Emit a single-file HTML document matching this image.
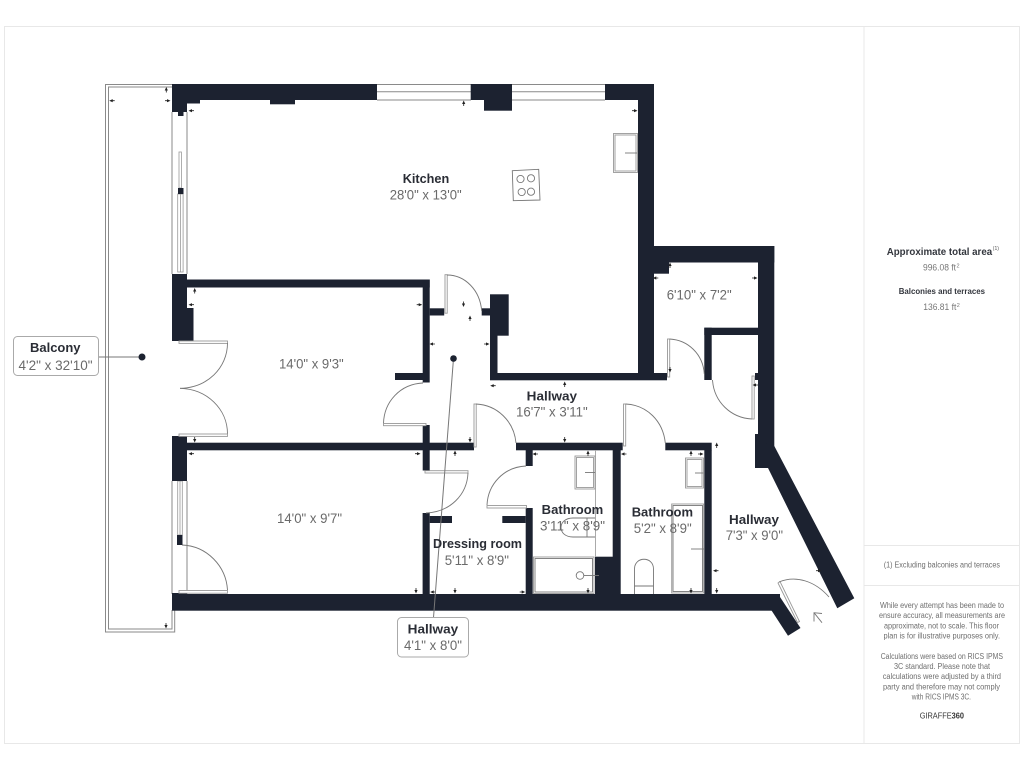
<!DOCTYPE html>
<html>
<head>
<meta charset="utf-8">
<style>
html,body{margin:0;padding:0;background:#fff;width:1024px;height:768px;overflow:hidden}
svg{display:block}
text{font-family:"Liberation Sans",sans-serif}
.n{font-weight:bold;font-size:13px;fill:#2a2d35}
.d{font-size:13.5px;fill:#6a6a6a}
.s{font-size:8px;fill:#6e6e6e}
.w{fill:#1c2230}
.o{fill:none;stroke:#8a8a8a;stroke-width:1}
.a{fill:none;stroke:#777;stroke-width:.9}
.l{fill:#fff;stroke:#999;stroke-width:.9}
</style>
</head>
<body>
<svg width="1024" height="768" viewBox="0 0 1024 768" xmlns="http://www.w3.org/2000/svg">
<defs>
<path id="L" d="M-2.5 0L1 -1.6V1.6ZM1 -.4H3V.4H1Z" fill="#222"/>
<path id="R" d="M2.5 0L-1 -1.6V1.6ZM-1 -.4H-3V.4H-1Z" fill="#222"/>
<path id="U" d="M0 -2.5L-1.6 1H1.6ZM-.4 1V3H.4V1Z" fill="#222"/>
<path id="D" d="M0 2.5L-1.6 -1H1.6ZM-.4 -1V-3H.4V-1Z" fill="#222"/>
</defs>

<!-- frame -->
<rect x="4.5" y="26.5" width="1015" height="717" fill="#fff" stroke="#e8e8e8"/>
<path d="M864 26V743M864 545.5H1019M864 585.5H1019" stroke="#e8e8e8" fill="none"/>

<!-- balcony -->
<path class="o" d="M172 84.5H105.5V632H174.7V610M172 87H108.5V629H172V610"/>

<!-- window lines -->
<path class="o" d="M172 112V274M187 112V274M172 481V594M187 481V594"/>
<path class="o" d="M377 84.5H471M377 91.7H471M377 100H471M512 84.5H605M512 91.7H605M512 100H605"/>
<rect x="179" y="152" width="2.4" height="36" fill="#fff" stroke="#999" stroke-width=".8"/>
<rect x="177.7" y="194" width="5.4" height="78" fill="#fff" stroke="#999" stroke-width=".8"/>
<path d="M180.4 194V272" stroke="#999" stroke-width=".8"/>
<rect x="177.7" y="481" width="4.6" height="54" fill="#fff" stroke="#999" stroke-width=".8"/>
<path d="M180 481V535" stroke="#999" stroke-width=".8"/>

<!-- walls -->
<g class="w">
<rect x="172" y="84" width="205" height="16"/>
<rect x="172" y="84" width="15" height="28"/>
<rect x="178" y="110" width="5.5" height="6"/>
<rect x="187" y="100" width="13" height="3.5"/>
<rect x="270" y="100" width="25" height="4.3"/>
<rect x="470.7" y="84" width="41" height="16"/>
<rect x="484" y="84" width="28" height="26.7"/>
<rect x="605" y="84" width="49" height="16"/>
<rect x="638" y="84" width="16" height="296"/>
<rect x="178" y="188" width="5.5" height="6"/>

<rect x="172" y="274" width="15" height="67"/>
<rect x="187" y="279.5" width="242.7" height="8"/>
<rect x="187" y="308" width="6.5" height="33"/>
<rect x="422.7" y="279.5" width="7" height="103"/>
<rect x="395" y="373" width="28" height="7"/>
<rect x="429.7" y="308.3" width="14.5" height="7.2"/>
<rect x="481.7" y="308.3" width="8.5" height="7.2"/>
<rect x="490" y="294.3" width="18.7" height="41.4"/>
<rect x="490" y="335" width="7.5" height="45"/>
<rect x="490" y="373" width="177" height="7.3"/>

<rect x="172" y="436" width="15" height="45"/>
<rect x="172" y="442.7" width="302" height="7.6"/>
<rect x="422.7" y="425" width="7" height="45.5"/>
<rect x="516" y="442.7" width="106.7" height="7.6"/>
<rect x="665.3" y="442.7" width="46.4" height="7.6"/>

<rect x="653" y="246" width="121.3" height="16.5"/>
<rect x="653" y="246" width="16" height="27.7"/>
<rect x="758" y="246" width="16.3" height="201"/>
<rect x="704.3" y="327.7" width="53.7" height="7.3"/>
<rect x="704.3" y="327.7" width="7.4" height="52.3"/>
<rect x="755" y="373" width="4" height="7"/>
<rect x="755" y="434" width="4" height="34"/>
<polygon points="755,440 774.3,446 854.3,598.3 837.3,608.3 768,468 755,468"/>

<rect x="172" y="594" width="608" height="16.7"/>
<rect x="172" y="593" width="15" height="2"/>
<polygon points="778,594 800.5,628 788,635.7 771.7,610.7 771.7,594"/>

<rect x="422.6" y="513" width="7.1" height="82"/>
<rect x="429.7" y="516" width="22.3" height="7"/>
<rect x="502.3" y="516" width="23.4" height="7"/>
<rect x="525.7" y="508" width="7" height="87"/>
<rect x="525.7" y="450" width="7" height="16"/>
<rect x="612.7" y="450" width="8" height="145"/>
<rect x="595" y="556.7" width="18" height="38"/>
<rect x="704.3" y="450" width="7.4" height="145"/>
</g>

<!-- doors -->
<rect class="l" x="179" y="341" width="48.5" height="2.4"/>
<path class="a" d="M227.5 343C227.5 368 207 388 180 388.3"/>
<path class="a" d="M180 388.3C207 389 227.5 409 227.5 434"/>
<rect class="l" x="179" y="434" width="48.5" height="2.4"/>
<rect class="l" x="445" y="274.7" width="2.2" height="38.5"/>
<path class="a" d="M447 275C465 275 480 290 481.7 311"/>
<path class="a" d="M423 383C400 384 384 402 383.5 423.5"/>
<rect class="l" x="383.5" y="423.5" width="42.5" height="2.2"/>
<rect class="l" x="474" y="404" width="2.2" height="43"/>
<path class="a" d="M476 404C497 405 514 421 516 443"/>
<rect class="l" x="623.5" y="404" width="2.2" height="42"/>
<path class="a" d="M625.6 404C647 405 663 421 665.3 443"/>
<rect class="l" x="667.5" y="339" width="2.2" height="38"/>
<path class="a" d="M669.6 339C688 340 703 354 704.3 374"/>
<path class="a" d="M712.5 380C714 402 731 418 752 419"/>
<rect class="l" x="752" y="376" width="2.2" height="43"/>
<rect class="l" x="425" y="470.7" width="43" height="2.3"/>
<path class="a" d="M468 473C467 495 450 512 426 513"/>
<path class="a" d="M526 466C504 467 488 484 487 505"/>
<rect class="l" x="487" y="505.5" width="39.5" height="2.5"/>
<path class="a" d="M182 545C207 546 226 566 227.5 590"/>
<rect class="l" x="179" y="590.5" width="48.5" height="2.7"/>
<rect x="177" y="535" width="5.5" height="10" fill="#1c2230"/>
<polygon class="l" points="778,583 780,581.5 799.5,621.5 797.5,622.5"/>
<path class="a" d="M779 582C796 575 815 581 829 597"/>
<path class="a" d="M822 613.5L814 612.7L814 621.5M814 612.7L822 622.7"/>

<!-- fixtures -->
<rect class="l" x="613.5" y="133.5" width="24" height="39"/>
<rect class="l" x="615" y="135" width="21" height="36"/>
<path class="a" d="M625 153H637"/>
<polygon class="a" points="512.3,170.7 538.7,169.3 540,200 513.3,200.7"/>
<circle class="a" cx="520.5" cy="179" r="3.6"/><circle class="a" cx="531" cy="178.3" r="3.6"/>
<circle class="a" cx="521.7" cy="192" r="3.6"/><circle class="a" cx="531" cy="191.7" r="3.6"/>

<path d="M595.5 450V557" stroke="#aaa" fill="none"/>
<rect class="l" x="575" y="456" width="20" height="33"/><rect class="l" x="576.5" y="457.5" width="17" height="30"/>
<path class="a" d="M585 472.5H595"/>
<path class="a" d="M595 518H573C557 518 557 537 573 537H595M587 518V537"/>
<rect class="l" x="533.5" y="557" width="60.5" height="36.5"/><rect class="a" x="535" y="558.5" width="57.5" height="33.5"/>
<circle class="a" cx="580" cy="575.5" r="3.8"/><path class="a" d="M583.8 575.5H599"/>

<rect class="l" x="685.5" y="458" width="18" height="30"/><rect class="l" x="687" y="459.5" width="15" height="27"/>
<path class="a" d="M695 473H703.5"/>
<rect class="l" x="671.7" y="504" width="32" height="89"/><rect class="a" x="673" y="505.5" width="29.5" height="86"/>
<path class="a" d="M691 549H704"/>
<path class="a" d="M634.5 594V569C634.5 556 653.5 556 653.5 569V594M634.5 586H653.5"/>

<!-- ticks -->
<use href="#U" x="166.3" y="89.5"/><use href="#L" x="111.7" y="100.7"/><use href="#R" x="168" y="100.7"/><use href="#L" x="191" y="110.7"/>
<use href="#U" x="194.7" y="290.5"/><use href="#L" x="191" y="304.7"/><use href="#D" x="194.7" y="440"/><use href="#L" x="191" y="453.7"/>
<use href="#U" x="463.7" y="103"/><use href="#R" x="635" y="110.7"/><use href="#L" x="655.3" y="278"/><use href="#D" x="463.5" y="304.5"/><use href="#R" x="419.7" y="304.7"/>
<use href="#R" x="418" y="453.7"/><use href="#D" x="470" y="440"/><use href="#L" x="432" y="344"/><use href="#R" x="487" y="344"/><use href="#L" x="492.7" y="385.7"/>
<use href="#U" x="564.7" y="384"/><use href="#D" x="564.7" y="440"/><use href="#U" x="470" y="318"/><use href="#U" x="455" y="453"/><use href="#L" x="535" y="454"/>
<use href="#U" x="588" y="453"/><use href="#L" x="623.5" y="454"/><use href="#U" x="670" y="265"/><use href="#R" x="755" y="278"/><use href="#D" x="670" y="370"/><use href="#L" x="755" y="385"/>
<use href="#U" x="716.7" y="445"/><use href="#U" x="691" y="453"/><use href="#R" x="701" y="454"/><use href="#D" x="166" y="626"/><use href="#D" x="416" y="591"/>
<use href="#L" x="432.7" y="592"/><use href="#D" x="455" y="591"/><use href="#R" x="522.7" y="592"/><use href="#D" x="588" y="591"/><use href="#D" x="691" y="591"/>
<use href="#L" x="715.5" y="570.7"/><use href="#D" x="716.7" y="591"/><use href="#R" x="819" y="570.7"/>

<!-- callouts -->
<path d="M99 357H142" stroke="#777" fill="none"/>
<circle cx="142" cy="357" r="3.5" fill="#1c2230"/>
<path d="M433.5 617.5L453.5 358.5" stroke="#777" fill="none"/>
<circle cx="453.5" cy="358.5" r="3.3" fill="#1c2230"/>
<rect x="13.5" y="336.5" width="85" height="39" rx="4" fill="#fff" stroke="#aaa"/>
<rect x="397.5" y="617.5" width="71" height="39.5" rx="4" fill="#fff" stroke="#aaa"/>

<!-- labels -->
<text class="n" x="402.7" y="183" textLength="46.5" lengthAdjust="spacingAndGlyphs">Kitchen</text>
<text class="d" x="389.7" y="199.3" textLength="72" lengthAdjust="spacingAndGlyphs">28'0" x 13'0"</text>
<text class="d" x="279" y="368.3" textLength="64.7" lengthAdjust="spacingAndGlyphs">14'0" x 9'3"</text>
<text class="d" x="277" y="523" textLength="65" lengthAdjust="spacingAndGlyphs">14'0" x 9'7"</text>
<text class="d" x="666.7" y="299.3" textLength="65" lengthAdjust="spacingAndGlyphs">6'10" x 7'2"</text>
<text class="n" x="526.7" y="400.7" textLength="50.3" lengthAdjust="spacingAndGlyphs">Hallway</text>
<text class="d" x="516" y="416.7" textLength="71.7" lengthAdjust="spacingAndGlyphs">16'7" x 3'11"</text>
<text class="n" x="541.7" y="514" textLength="61.6" lengthAdjust="spacingAndGlyphs">Bathroom</text>
<text class="d" x="540" y="530.7" textLength="65" lengthAdjust="spacingAndGlyphs">3'11" x 8'9"</text>
<text class="n" x="433" y="548" textLength="89" lengthAdjust="spacingAndGlyphs">Dressing room</text>
<text class="d" x="444.7" y="565" textLength="64.3" lengthAdjust="spacingAndGlyphs">5'11" x 8'9"</text>
<text class="n" x="631.7" y="516.7" textLength="61.3" lengthAdjust="spacingAndGlyphs">Bathroom</text>
<text class="d" x="633.7" y="533" textLength="58" lengthAdjust="spacingAndGlyphs">5'2" x 8'9"</text>
<text class="n" x="729" y="524" textLength="50" lengthAdjust="spacingAndGlyphs">Hallway</text>
<text class="d" x="725.7" y="540" textLength="57.3" lengthAdjust="spacingAndGlyphs">7'3" x 9'0"</text>
<text class="n" x="30" y="352" textLength="50.5" lengthAdjust="spacingAndGlyphs">Balcony</text>
<text class="d" x="18.5" y="370" textLength="74" lengthAdjust="spacingAndGlyphs">4'2" x 32'10"</text>
<text class="n" x="407.7" y="633.3" textLength="50.5" lengthAdjust="spacingAndGlyphs">Hallway</text>
<text class="d" x="404" y="650" textLength="58" lengthAdjust="spacingAndGlyphs">4'1" x 8'0"</text>

<!-- side panel -->
<text x="886.7" y="255" font-size="10.5" font-weight="bold" fill="#33363d" textLength="105.5" lengthAdjust="spacingAndGlyphs">Approximate total area</text>
<text x="992.8" y="250" font-size="5" fill="#555">(1)</text>
<text x="923" y="270.7" font-size="9" fill="#777" textLength="33" lengthAdjust="spacingAndGlyphs">996.08 ft</text>
<text x="956.5" y="267.5" font-size="5.5" fill="#777">2</text>
<text x="898.7" y="294" font-size="8" font-weight="bold" fill="#33363d" textLength="86.3" lengthAdjust="spacingAndGlyphs">Balconies and terraces</text>
<text x="923.3" y="310" font-size="9" fill="#777" textLength="33" lengthAdjust="spacingAndGlyphs">136.81 ft</text>
<text x="956.8" y="306.8" font-size="5.5" fill="#777">2</text>
<text class="s" x="883.7" y="567.7" textLength="116.3" lengthAdjust="spacingAndGlyphs">(1) Excluding balconies and terraces</text>
<text class="s" x="880" y="608" textLength="124" lengthAdjust="spacingAndGlyphs">While every attempt has been made to</text>
<text class="s" x="879" y="618" textLength="126" lengthAdjust="spacingAndGlyphs">ensure accuracy, all measurements are</text>
<text class="s" x="884" y="628.5" textLength="115" lengthAdjust="spacingAndGlyphs">approximate, not to scale. This floor</text>
<text class="s" x="883.5" y="638.5" textLength="116.5" lengthAdjust="spacingAndGlyphs">plan is for illustrative purposes only.</text>
<text class="s" x="880.7" y="659" textLength="122.3" lengthAdjust="spacingAndGlyphs">Calculations were based on RICS IPMS</text>
<text class="s" x="894" y="669" textLength="96" lengthAdjust="spacingAndGlyphs">3C standard. Please note that</text>
<text class="s" x="882.7" y="679" textLength="118.3" lengthAdjust="spacingAndGlyphs">calculations were adjusted by a third</text>
<text class="s" x="883" y="689.5" textLength="117" lengthAdjust="spacingAndGlyphs">party and therefore may not comply</text>
<text class="s" x="911.7" y="699.5" textLength="59.3" lengthAdjust="spacingAndGlyphs">with RICS IPMS 3C.</text>
<text x="919.7" y="718.7" font-size="8.5" fill="#333" textLength="44.3" lengthAdjust="spacingAndGlyphs">GIRAFFE<tspan font-weight="bold">360</tspan></text>
</svg>
</body>
</html>
